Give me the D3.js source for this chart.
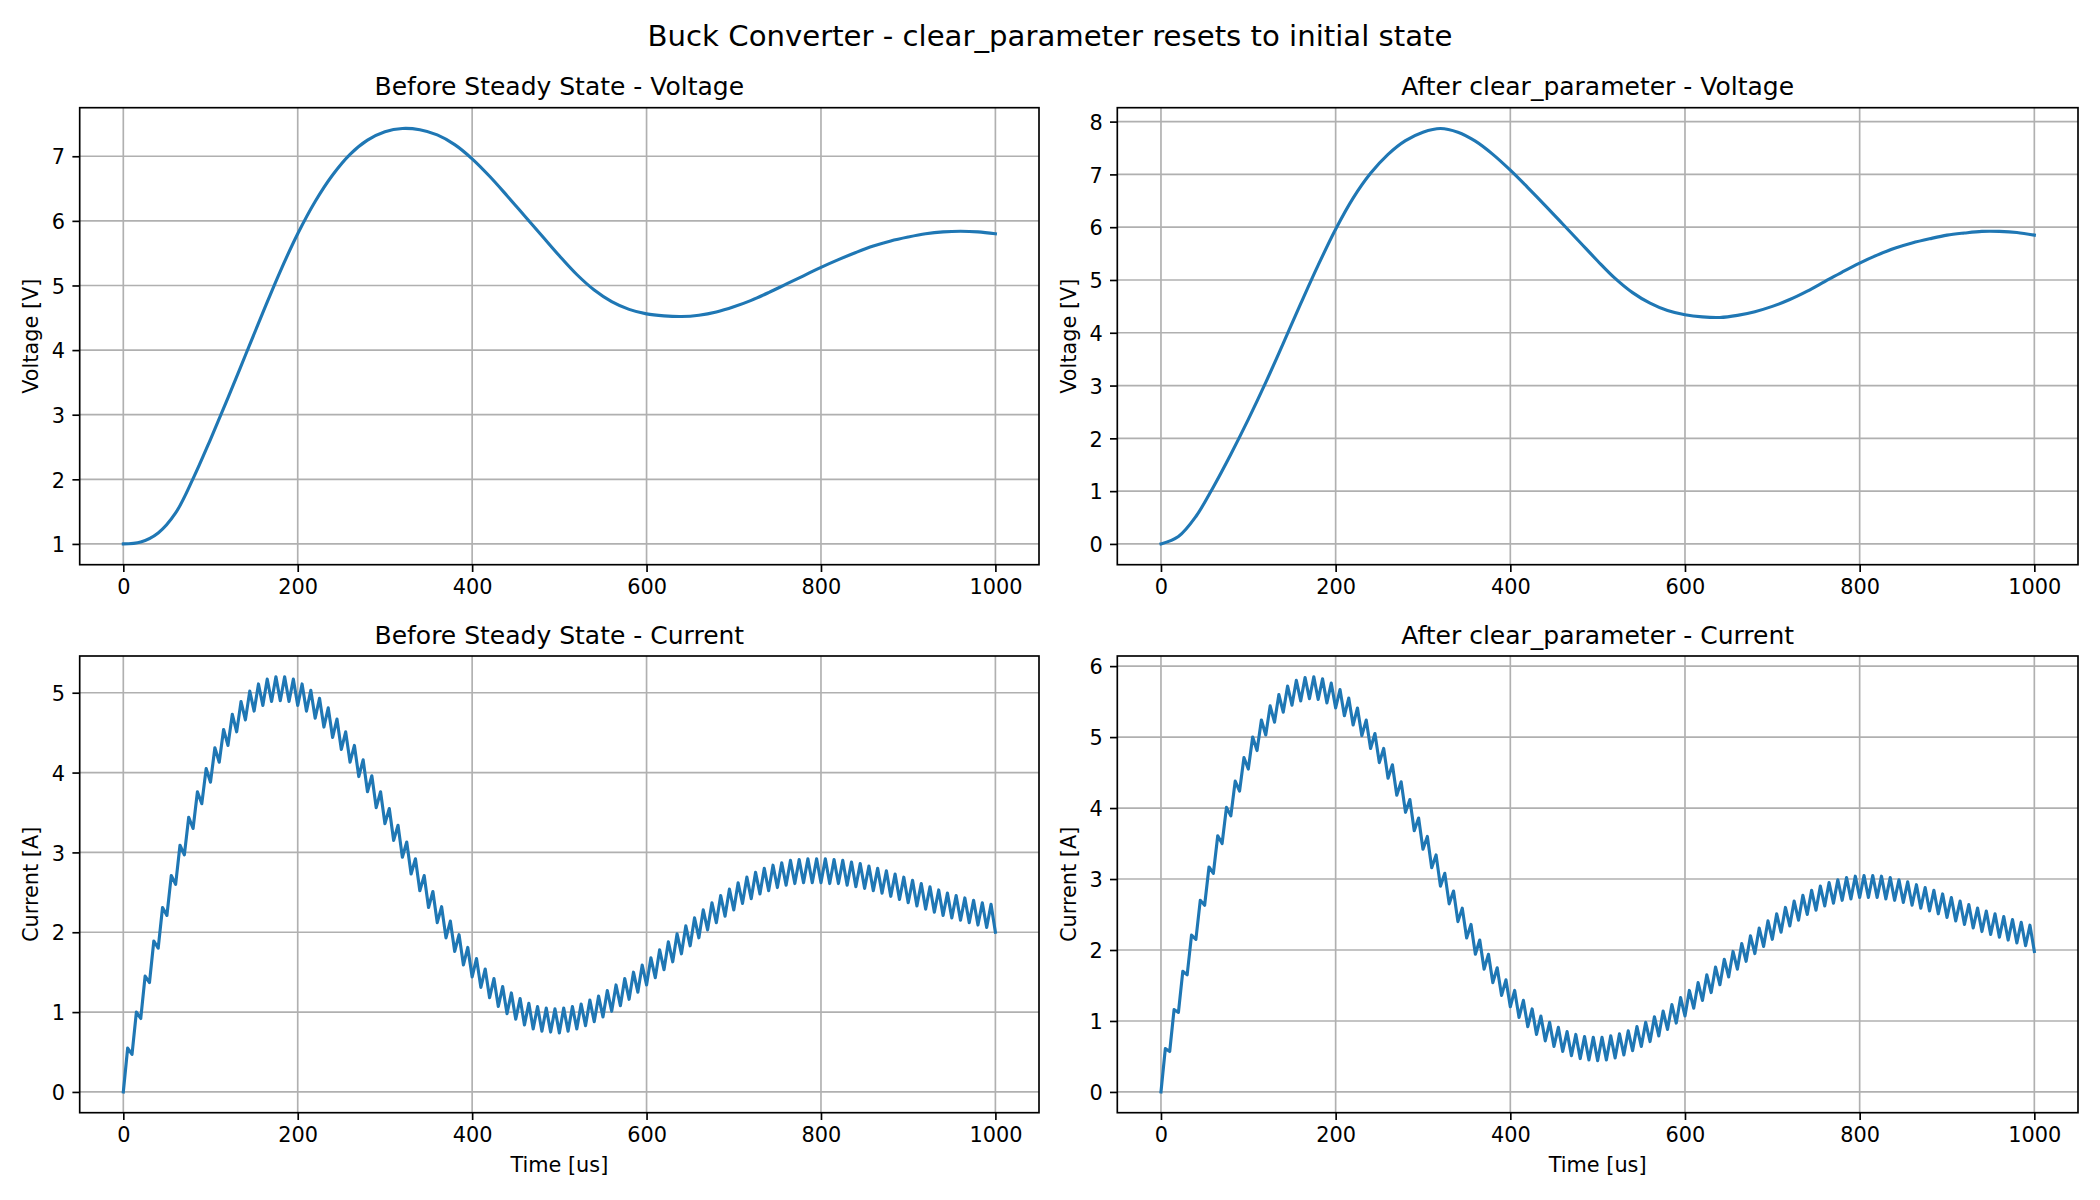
<!DOCTYPE html>
<html><head><meta charset="utf-8">
<script src="https://cdn.jsdelivr.net/npm/d3@7"></script>
<style>
body{margin:0;background:#fff}
svg{display:block}
text{font-family:"DejaVu Sans",sans-serif;fill:#000}
</style>
</head><body>
<svg id="c" width="2100" height="1200"></svg>
<script>
// ---------------- data ----------------
const figTitle = "Buck Converter - clear_parameter resets to initial state";
const panelTitles = ["Before Steady State - Voltage","After clear_parameter - Voltage","Before Steady State - Current","After clear_parameter - Current"];
const timeTicks = [0,200,400,600,800,1000];
const voltageBeforeTicks = [1,2,3,4,5,6,7];
const voltageAfterTicks = [0,1,2,3,4,5,6,7,8];
const currentBeforeTicks = [0,1,2,3,4,5];
const currentAfterTicks = [0,1,2,3,4,5,6];

const voltageTimes = [0,20,40,60,80,100,120,140,160,180,200,220,240,260,280,300,320,340,360,380,400,420,440,460,480,500,520,540,560,580,600,620,640,660,680,700,720,740,760,780,800,820,840,860,880,900,920,940,960,980,1000];
const voltageBefore = [1.00,1.03,1.17,1.48,2.01,2.62,3.26,3.92,4.58,5.22,5.80,6.30,6.71,7.03,7.25,7.38,7.43,7.41,7.33,7.18,6.96,6.69,6.39,6.08,5.77,5.46,5.17,4.93,4.75,4.63,4.56,4.53,4.52,4.54,4.59,4.67,4.77,4.89,5.02,5.15,5.28,5.40,5.51,5.61,5.69,5.75,5.80,5.83,5.84,5.83,5.80];
const voltageAfter = [0.00,0.14,0.52,1.08,1.70,2.36,3.06,3.80,4.55,5.28,5.96,6.55,7.02,7.38,7.64,7.80,7.87,7.80,7.63,7.38,7.08,6.75,6.41,6.06,5.71,5.36,5.03,4.76,4.56,4.42,4.34,4.30,4.29,4.33,4.40,4.50,4.63,4.79,4.97,5.15,5.32,5.47,5.60,5.70,5.78,5.85,5.89,5.92,5.92,5.90,5.85];

// switching cycle: trough at start of each 10 us period, peak at mid-period
const troughTimes = [0,10,20,30,40,50,60,70,80,90,100,110,120,130,140,150,160,170,180,190,200,210,220,230,240,250,260,270,280,290,300,310,320,330,340,350,360,370,380,390,400,410,420,430,440,450,460,470,480,490,500,510,520,530,540,550,560,570,580,590,600,610,620,630,640,650,660,670,680,690,700,710,720,730,740,750,760,770,780,790,800,810,820,830,840,850,860,870,880,890,900,910,920,930,940,950,960,970,980,990,1000];
const peakTimes = [5,15,25,35,45,55,65,75,85,95,105,115,125,135,145,155,165,175,185,195,205,215,225,235,245,255,265,275,285,295,305,315,325,335,345,355,365,375,385,395,405,415,425,435,445,455,465,475,485,495,505,515,525,535,545,555,565,575,585,595,605,615,625,635,645,655,665,675,685,695,705,715,725,735,745,755,765,775,785,795,805,815,825,835,845,855,865,875,885,895,905,915,925,935,945,955,965,975,985,995];

const currentBeforeTroughs = [0.00,0.47,0.92,1.37,1.80,2.21,2.60,2.97,3.30,3.61,
 3.88,4.13,4.34,4.51,4.66,4.77,4.84,4.89,4.90,4.89,
 4.84,4.77,4.68,4.57,4.44,4.29,4.13,3.95,3.76,3.56,
 3.36,3.15,2.94,2.73,2.52,2.31,2.12,1.93,1.76,1.59,
 1.44,1.31,1.18,1.07,0.98,0.91,0.84,0.79,0.76,0.75,
 0.74,0.76,0.79,0.83,0.88,0.94,1.01,1.08,1.16,1.25,
 1.34,1.43,1.53,1.63,1.73,1.83,1.93,2.03,2.12,2.20,
 2.28,2.36,2.42,2.48,2.52,2.56,2.59,2.61,2.62,2.62,
 2.62,2.61,2.61,2.59,2.57,2.55,2.52,2.49,2.45,2.41,
 2.37,2.33,2.29,2.25,2.21,2.18,2.15,2.12,2.09,2.06,
 2.00];
const currentBeforePeaks = [0.55,1.00,1.45,1.89,2.31,2.71,3.09,3.44,3.76,4.05,
 4.31,4.54,4.73,4.89,5.02,5.11,5.17,5.20,5.20,5.17,
 5.11,5.03,4.93,4.81,4.67,4.51,4.34,4.16,3.96,3.76,
 3.55,3.34,3.13,2.92,2.71,2.51,2.32,2.14,1.97,1.81,
 1.67,1.54,1.42,1.32,1.24,1.17,1.11,1.07,1.05,1.04,
 1.05,1.07,1.10,1.15,1.20,1.27,1.34,1.42,1.50,1.59,
 1.68,1.78,1.88,1.98,2.08,2.18,2.28,2.37,2.46,2.54,
 2.62,2.69,2.75,2.80,2.84,2.87,2.90,2.91,2.92,2.92,
 2.92,2.91,2.90,2.88,2.86,2.83,2.80,2.77,2.73,2.69,
 2.65,2.61,2.57,2.53,2.49,2.46,2.43,2.40,2.37,2.35];

const currentAfterTroughs = [0.00,0.57,1.12,1.65,2.15,2.63,3.08,3.50,3.89,4.24,
 4.55,4.81,5.03,5.21,5.35,5.45,5.51,5.54,5.53,5.48,
 5.41,5.30,5.17,5.02,4.84,4.64,4.42,4.18,3.94,3.68,
 3.42,3.16,2.90,2.65,2.40,2.17,1.94,1.73,1.54,1.36,
 1.20,1.05,0.92,0.81,0.72,0.64,0.57,0.51,0.47,0.45,
 0.44,0.45,0.48,0.52,0.58,0.64,0.71,0.79,0.88,0.97,
 1.07,1.18,1.29,1.40,1.51,1.62,1.73,1.84,1.95,2.05,
 2.15,2.25,2.34,2.42,2.50,2.56,2.62,2.66,2.70,2.72,
 2.74,2.74,2.74,2.72,2.70,2.67,2.63,2.59,2.55,2.51,
 2.46,2.41,2.36,2.31,2.26,2.22,2.18,2.14,2.10,2.06,
 1.98];
const currentAfterPeaks = [0.61,1.16,1.70,2.21,2.70,3.17,3.61,4.01,4.38,4.71,
 5.00,5.24,5.44,5.60,5.72,5.80,5.84,5.85,5.82,5.76,
 5.67,5.55,5.41,5.24,5.05,4.84,4.61,4.37,4.12,3.86,
 3.60,3.34,3.08,2.83,2.59,2.36,2.14,1.94,1.75,1.58,
 1.43,1.29,1.17,1.07,0.98,0.91,0.85,0.81,0.78,0.77,
 0.77,0.79,0.82,0.86,0.92,0.98,1.06,1.14,1.23,1.33,
 1.43,1.54,1.65,1.76,1.87,1.98,2.09,2.20,2.31,2.41,
 2.51,2.60,2.69,2.77,2.84,2.90,2.95,2.99,3.02,3.04,
 3.05,3.05,3.04,3.02,2.99,2.96,2.92,2.88,2.84,2.79,
 2.74,2.69,2.64,2.59,2.55,2.51,2.47,2.43,2.39,2.35];

// ---------------- build tables ----------------
function zipSeries(ts, vs){ return ts.map((t,i)=>({t, v:vs[i]})); }
function interleave(tT, tV, pT, pV){
  const out=[];
  for(let i=0;i<tT.length;i++){
    out.push({t:tT[i], v:tV[i]});
    if(i<pT.length) out.push({t:pT[i], v:pV[i]});
  }
  return out;
}

const panels = [
  {title:panelTitles[0], data:zipSeries(voltageTimes, voltageBefore), smooth:true, yTicks:voltageBeforeTicks, ylabel:"Voltage [V]",
   x0:79.7, x1:1039, y0:107.7, y1:564.7, ylabX:38, xlabel:null},
  {title:panelTitles[1], data:zipSeries(voltageTimes, voltageAfter), smooth:true, yTicks:voltageAfterTicks, ylabel:"Voltage [V]",
   x0:1117.3, x1:2078, y0:107.7, y1:564.7, ylabX:1076, xlabel:null},
  {title:panelTitles[2], data:interleave(troughTimes, currentBeforeTroughs, peakTimes, currentBeforePeaks), smooth:false, yTicks:currentBeforeTicks, ylabel:"Current [A]",
   x0:79.7, x1:1039, y0:656, y1:1112.7, ylabX:38, xlabel:"Time [us]"},
  {title:panelTitles[3], data:interleave(troughTimes, currentAfterTroughs, peakTimes, currentAfterPeaks), smooth:false, yTicks:currentAfterTicks, ylabel:"Current [A]",
   x0:1117.3, x1:2078, y0:656, y1:1112.7, ylabX:1076, xlabel:"Time [us]"}
];

const svg = d3.select("#c");
const FS = 20.83, TICK = 7.3, LW = 1.67;

svg.append("text").attr("x",1050).attr("y",46).attr("text-anchor","middle")
  .style("font-size","29.17px").text(figTitle);

function padded(ext){ const r=ext[1]-ext[0]; return [ext[0]-0.05*r, ext[1]+0.05*r]; }

panels.forEach(p=>{
  const x = d3.scaleLinear().domain(padded(d3.extent(p.data,d=>d.t))).range([p.x0,p.x1]);
  const y = d3.scaleLinear().domain(padded(d3.extent(p.data,d=>d.v))).range([p.y1,p.y0]);
  const g = svg.append("g");

  // grid
  g.selectAll(".gx").data(timeTicks).enter().append("line")
    .attr("x1",d=>x(d)).attr("x2",d=>x(d)).attr("y1",p.y0).attr("y2",p.y1)
    .attr("stroke","#b0b0b0").attr("stroke-width",LW);
  g.selectAll(".gy").data(p.yTicks).enter().append("line")
    .attr("y1",d=>y(d)).attr("y2",d=>y(d)).attr("x1",p.x0).attr("x2",p.x1)
    .attr("stroke","#b0b0b0").attr("stroke-width",LW);

  // line
  const line = d3.line().x(d=>x(d.t)).y(d=>y(d.v)).curve(p.smooth? d3.curveCatmullRom.alpha(0.5) : d3.curveLinear);
  g.append("path").datum(p.data).attr("d",line).attr("fill","none")
    .attr("stroke","#1f77b4").attr("stroke-width",3.125).attr("stroke-linejoin","round").attr("stroke-linecap","square");

  // axes
  const ax = d3.axisBottom(x).tickValues(timeTicks).tickSize(TICK).tickPadding(TICK).tickFormat(d3.format("d"));
  const gx = g.append("g").attr("transform",`translate(0,${p.y1})`).call(ax);
  const ay = d3.axisLeft(y).tickValues(p.yTicks).tickSize(TICK).tickPadding(TICK).tickFormat(d3.format("d"));
  const gy = g.append("g").attr("transform",`translate(${p.x0},0)`).call(ay);
  [gx,gy].forEach(a=>{
    a.select(".domain").remove();
    a.selectAll(".tick line").attr("stroke","#000").attr("stroke-width",LW);
    a.selectAll(".tick text").attr("fill","#000").style("font-size",FS+"px").style("font-family","DejaVu Sans");
  });
  gy.selectAll(".tick text").attr("dy","0.37em");

  // spines
  g.append("rect").attr("x",p.x0).attr("y",p.y0).attr("width",p.x1-p.x0).attr("height",p.y1-p.y0)
    .attr("fill","none").attr("stroke","#000").attr("stroke-width",LW);

  // titles / labels
  g.append("text").attr("x",(p.x0+p.x1)/2).attr("y",p.y0-12.5).attr("text-anchor","middle")
    .style("font-size","25px").text(p.title);
  g.append("text").attr("transform",`translate(${p.ylabX},${(p.y0+p.y1)/2}) rotate(-90)`)
    .attr("text-anchor","middle").style("font-size",FS+"px").text(p.ylabel);
  if(p.xlabel){
    g.append("text").attr("x",(p.x0+p.x1)/2).attr("y",p.y1+59).attr("text-anchor","middle")
      .style("font-size",FS+"px").text(p.xlabel);
  }
});
</script>
</body></html>
